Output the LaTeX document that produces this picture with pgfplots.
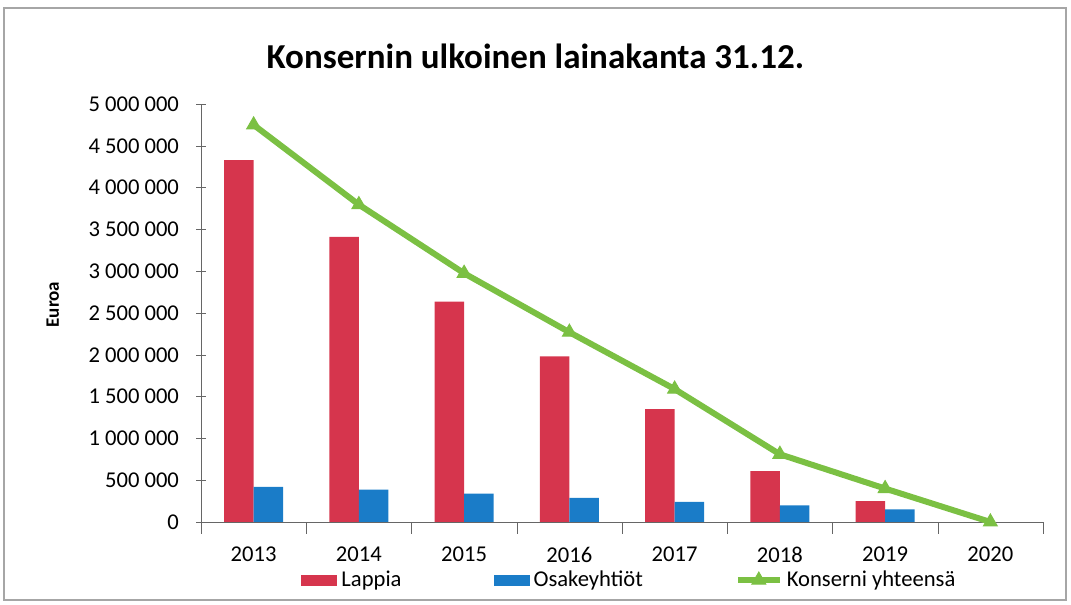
\documentclass[border=0pt]{standalone}
\usepackage{pgfplots}
\pgfplotsset{compat=1.18}
\usepackage{fontspec}
\setmainfont{Carlito}
\definecolor{lred}{HTML}{D6354D}
\definecolor{lblue}{HTML}{1A7CC8}
\definecolor{lgreen}{HTML}{7BC043}
\begin{document}
\begin{tikzpicture}
\useasboundingbox (0,0) rectangle (535.5pt,302.5pt);
\draw[gray!70, line width=0.8pt] (2pt,2.5pt) rectangle (533pt,298.5pt);
\begin{axis}[
  at={(100.5pt,41.5pt)}, anchor=south west,
  scale only axis, width=421pt, height=209pt,
  xmin=-0.5, xmax=7.5, ymin=0, ymax=5000000,
  axis lines=left, axis line style={-, gray!80!black},
  xtick={0,...,7}, xticklabels={2013,2014,2015,2016,2017,2018,2019,2020},
  major x tick style={draw=none},
  minor xtick={-0.5,0.5,...,7.5},
  minor x tick style={gray!80!black},
  minor tick length=6pt,
  xtick align=outside,
  ytick={0,500000,...,5000000},
  yticklabels={0,500 000,1 000 000,1 500 000,2 000 000,2 500 000,3 000 000,3 500 000,4 000 000,4 500 000,5 000 000},
  scaled y ticks=false,
  ytick align=center, major tick length=5pt,
  y tick style={gray!80!black},
  tick label style={font=\fontsize{11.3}{13}\selectfont},
  yticklabel style={xshift=-5pt},
  xticklabel style={yshift=-4pt},
  ylabel={\textbf{Euroa}},
  ylabel style={at={(axis description cs:-0.176,0.52)}, anchor=center, font=\fontsize{9.5}{11}\selectfont},
  title={\textbf{Konsernin ulkoinen lainakanta 31.12.}},
  title style={at={(axis description cs:0.397,1.11)}, anchor=center, yshift=-5pt, font=\fontsize{17.5}{20}\selectfont},
  legend columns=3,
  legend style={at={(axis description cs:0.51,-0.139)}, anchor=center, draw=none, fill=none,
    font=\fontsize{11.3}{13}\selectfont, /tikz/every even column/.append style={column sep=44pt}},
  clip=false,
]
\addplot[ybar, bar width=14.75pt, bar shift=-7.375pt, fill=lred, draw=none,
  legend image code/.code={\fill[lred] (0pt,-2.75pt) rectangle (18pt,2.75pt);}]
  coordinates {(0,4330000) (1,3410000) (2,2635000) (3,1980000) (4,1350000) (5,610000) (6,250000)};
\addlegendentry{Lappia}
\addplot[ybar, bar width=14.75pt, bar shift=7.375pt, fill=lblue, draw=none,
  legend image code/.code={\fill[lblue] (0pt,-2.75pt) rectangle (18pt,2.75pt);}]
  coordinates {(0,420000) (1,386000) (2,340000) (3,290000) (4,240000) (5,200000) (6,150000)};
\addlegendentry{Osakeyhtiöt\hspace{10pt}}
\addplot[sharp plot, color=lgreen, line width=3pt, mark=triangle*, mark size=4pt,
  mark options={solid, line width=0.5pt, fill=lgreen},
  legend image code/.code={\draw[lgreen, line width=3pt, mark=triangle*, mark size=4pt, mark repeat=2, mark phase=2, mark options={solid, line width=0.5pt, fill=lgreen}] plot coordinates {(0pt,0pt) (10.5pt,0pt) (21pt,0pt)};}]
  coordinates {(0,4750000) (1,3796000) (2,2975000) (3,2270000) (4,1590000) (5,810000) (6,400000) (7,0)};
\addlegendentry{Konserni yhteensä}
\end{axis}
\end{tikzpicture}
\end{document}
